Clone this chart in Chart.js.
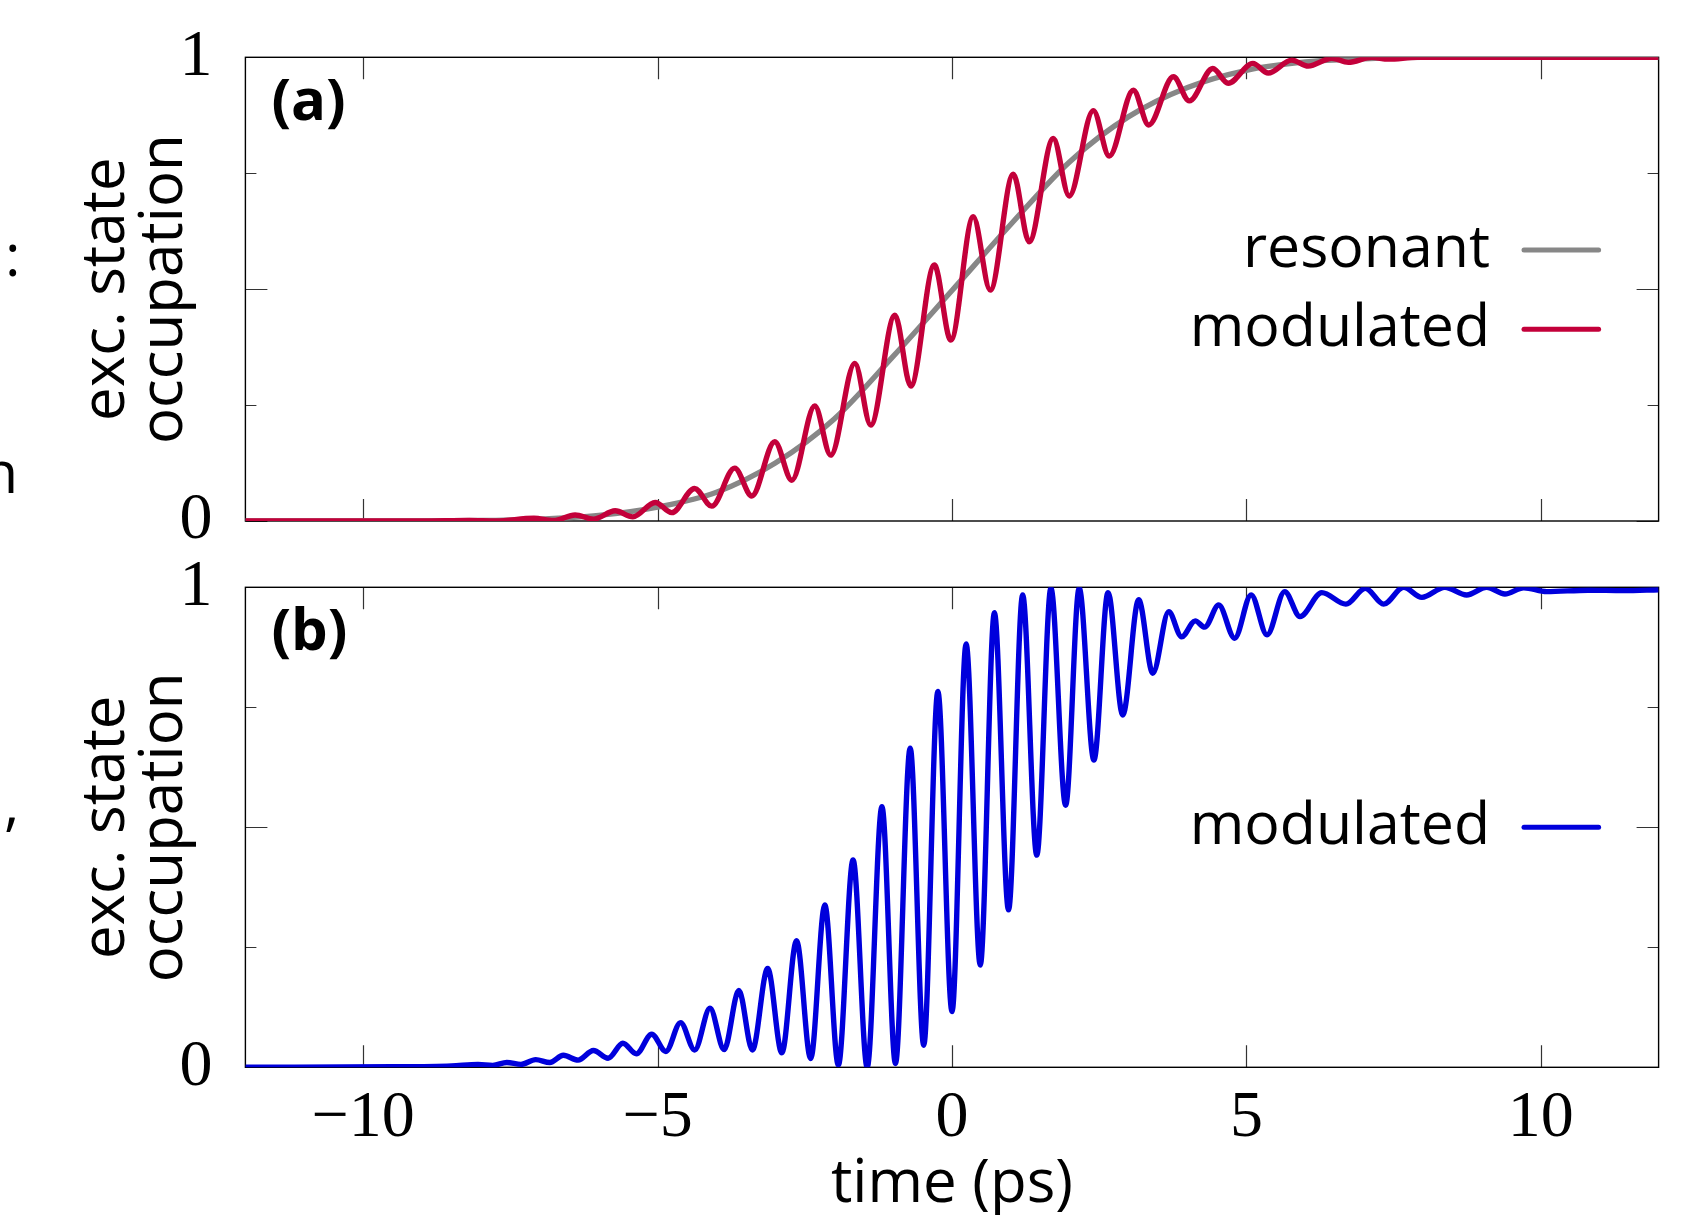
<!DOCTYPE html>
<html>
<head>
<meta charset="utf-8">
<script src="https://cdn.jsdelivr.net/npm/chart.js@4.4.1/dist/chart.umd.min.js"></script>
<style>
  html, body { margin: 0; padding: 0; background: #fff; }
  body { width: 1699px; height: 1215px; position: relative; overflow: hidden; }
  canvas { position: absolute; left: 0; top: 0; }
  .edge { position: absolute; font-family: 'Open Sans', sans-serif; font-size: 59px; line-height: 59px; color: #000; }
</style>
</head>
<body>
<div class="edge" style="left:5px;top:224px">:</div>
<div class="edge" style="left:-18px;top:441px">n</div>
<div class="edge" style="left:4px;top:772px">,</div>
<canvas id="panel-a" width="1699" height="1215"></canvas>
<canvas id="panel-b" width="1699" height="1215"></canvas>
<script>
// axes
const X_TICKS = [-10, -5, 0, 5, 10];
const X_TICK_LABELS = ["−10", "−5", "0", "5", "10"];
const Y_TICKS = [0, 0.25, 0.5, 0.75, 1];
const Y_TICK_LABELS = ["0", "", "", "", "1"];

// (a) resonant pulse
const RESONANT_T = [-12, -9, -8, -7, -6, -5, -4, -3, -2, -1, 0, 1, 2, 3, 4, 5, 6, 7, 8, 12];
const RESONANT_P = [0, 0, 0.001, 0.004, 0.012, 0.03, 0.062, 0.125, 0.22, 0.355, 0.497, 0.64, 0.775, 0.872, 0.935, 0.972, 0.99, 0.997, 1, 1];

// (a) modulated pulse (peaks and troughs)
const MOD_A_T = [-12, -9, -8.2, -7.75, -7.1, -6.77, -6.40, -6.09, -5.72, -5.42, -5.04, -4.76, -4.37, -4.08, -3.69, -3.40,
  -3.01, -2.72, -2.33, -2.06, -1.65, -1.38, -0.97, -0.70, -0.30, -0.02, 0.36, 0.65, 1.04, 1.31, 1.72, 1.99, 2.40, 2.67,
  3.08, 3.34, 3.76, 4.03, 4.43, 4.69, 5.11, 5.37, 5.77, 6.05, 6.45, 6.73, 7.13, 7.41, 7.9, 12];
const MOD_A_P = [0, 0, 0.001, 0, 0.006, 0.001, 0.013, 0.004, 0.022, 0.009, 0.040, 0.018, 0.070, 0.032, 0.114, 0.054,
  0.171, 0.088, 0.248, 0.142, 0.340, 0.207, 0.444, 0.291, 0.552, 0.390, 0.656, 0.498, 0.748, 0.602, 0.825, 0.701, 0.885, 0.787,
  0.929, 0.854, 0.958, 0.906, 0.976, 0.944, 0.987, 0.966, 0.994, 0.981, 0.998, 0.989, 1.0, 0.996, 1.0, 1.0];

// (b) modulated pulse
const MOD_B_T = [-12, -9.5, -8.5, -8.05, -7.8, -7.56, -7.32, -7.07, -6.83, -6.6, -6.35, -6.09, -5.84, -5.59, -5.36, -5.10,
  -4.86, -4.61, -4.37, -4.11, -3.87, -3.62, -3.39, -3.13, -2.89, -2.64, -2.40, -2.16, -1.93, -1.68, -1.44, -1.19, -0.96, -0.71,
  -0.48, -0.24, 0.0, 0.24, 0.48, 0.72, 0.96, 1.20, 1.44, 1.68, 1.93, 2.16, 2.41, 2.65, 2.90, 3.17, 3.41, 3.68, 3.90, 4.13,
  4.29, 4.53, 4.80, 5.08, 5.35, 5.65, 5.91, 6.28, 6.69, 7.02, 7.33, 7.67, 7.98, 8.37, 8.74, 9.08, 9.39, 9.71, 10.10, 10.8, 11.4, 12];
const MOD_B_P = [0, 0.001, 0.003, 0.006, 0.004, 0.010, 0.006, 0.016, 0.010, 0.025, 0.015, 0.035, 0.019, 0.050, 0.028, 0.069,
  0.033, 0.093, 0.036, 0.123, 0.037, 0.160, 0.036, 0.206, 0.030, 0.264, 0.018, 0.338, 0.005, 0.432, 0.0, 0.543, 0.008, 0.665,
  0.046, 0.783, 0.116, 0.882, 0.213, 0.947, 0.328, 0.984, 0.442, 0.998, 0.546, 0.998, 0.640, 0.989, 0.734, 0.974, 0.821, 0.949, 0.897, 0.930,
  0.917, 0.963, 0.894, 0.984, 0.901, 0.991, 0.939, 0.989, 0.965, 0.998, 0.965, 1.0, 0.979, 1.0, 0.984, 1.0, 0.986, 0.999, 0.991, 0.994, 0.993, 0.995];

const GRAY = "#878787";
const RED = "#c3003a";
const BLUE = "#0000dc";
const SANS = "'Open Sans', sans-serif";
const SERIF = "'Liberation Serif', 'Times New Roman', serif";

function pts(ts, ps) {
  return ts.map((t, i) => ({ x: t, y: ps[i] }));
}

// frame with inward ticks, panel label and legend (gnuplot look)
const framePlugin = {
  id: "frame",
  beforeDatasetsDraw(chart) {
    const { ctx, chartArea: a, scales: { x, y } } = chart;
    ctx.save();
    ctx.strokeStyle = "#333";
    ctx.lineWidth = 1.2;
    ctx.beginPath();
    x.ticks.forEach((t) => {
      const px = Math.round(x.getPixelForValue(t.value)) + 0.5;
      ctx.moveTo(px, a.bottom); ctx.lineTo(px, a.bottom - 22);
      ctx.moveTo(px, a.top); ctx.lineTo(px, a.top + 22);
    });
    y.ticks.forEach((t) => {
      const py = Math.round(y.getPixelForValue(t.value)) + 0.5;
      const len = Math.abs(t.value * 2 - Math.round(t.value * 2)) < 1e-9 ? 22 : 11;
      ctx.moveTo(a.left, py); ctx.lineTo(a.left + len, py);
      ctx.moveTo(a.right, py); ctx.lineTo(a.right - len, py);
    });
    ctx.stroke();
    ctx.strokeStyle = "#000";
    ctx.lineWidth = 1.4;
    ctx.strokeRect(a.left, a.top, a.right - a.left, a.bottom - a.top);
    ctx.restore();
  },
  afterDatasetsDraw(chart, args, opts) {
    const { ctx, chartArea: a } = chart;
    ctx.save();
    ctx.fillStyle = "#000";
    ctx.font = `bold 58px ${SANS}`;
    ctx.textAlign = "left";
    ctx.textBaseline = "alphabetic";
    ctx.fillText(opts.label, a.left + 26, a.top + 63);

    ctx.font = `59px ${SANS}`;
    ctx.textAlign = "right";
    ctx.lineCap = "round";
    ctx.lineWidth = 5;
    opts.legend.forEach((item, i) => {
      const ly = a.top + opts.legendTop + i * 79.3;
      ctx.fillStyle = "#000";
      ctx.fillText(item.text, a.right - 168.6, ly + 17);
      ctx.strokeStyle = item.color;
      ctx.beginPath();
      ctx.moveTo(a.right - 134.6, ly);
      ctx.lineTo(a.right - 60, ly);
      ctx.stroke();
    });
    ctx.restore();
  },
};

function lineSet(label, ts, ps, color, order) {
  return {
    label,
    data: pts(ts, ps),
    borderColor: color,
    borderWidth: 5.4,
    pointRadius: 0,
    cubicInterpolationMode: "monotone",
    fill: false,
    order,
  };
}

function makePanel(canvasId, cfg) {
  return new Chart(document.getElementById(canvasId), {
    type: "line",
    data: { datasets: cfg.datasets },
    plugins: [framePlugin],
    options: {
      responsive: false,
      animation: false,
      events: [],
      parsing: false,
      layout: { padding: { left: 0, right: 40.4, top: cfg.top, bottom: cfg.bottom } },
      plugins: {
        legend: { display: false },
        tooltip: { enabled: false },
        frame: { label: cfg.label, legend: cfg.legend, legendTop: cfg.legendTop },
      },
      scales: {
        x: {
          type: "linear",
          min: -12,
          max: 12,
          afterBuildTicks: (s) => { s.ticks = X_TICKS.map((v) => ({ value: v })); },
          afterFit: (s) => { s.height = cfg.xHeight; s.paddingLeft = 0; s.paddingRight = 0; },
          grid: { display: false, drawTicks: false },
          border: { display: false },
          ticks: {
            display: cfg.showX,
            callback: (v, i) => X_TICK_LABELS[i],
            font: { family: SERIF, size: 66 },
            color: "#000",
            padding: 12,
            maxRotation: 0,
          },
          title: {
            display: cfg.showX,
            text: "time (ps)",
            font: { family: SANS, size: 60, lineHeight: 0.85 },
            color: "#000",
            padding: { top: 0, bottom: 5 },
          },
        },
        y: {
          type: "linear",
          min: 0,
          max: 1,
          afterBuildTicks: (s) => { s.ticks = Y_TICKS.map((v) => ({ value: v })); },
          // fixed axis width; tick label overhang must not push the plot area
          afterFit: (s) => { s.width = 245.4; s.paddingTop = 0; s.paddingBottom = 0; },
          grid: { display: false, drawTicks: false },
          border: { display: false },
          ticks: {
            callback: (v, i) => Y_TICK_LABELS[i],
            font: { family: SERIF, size: 66 },
            color: "#000",
            padding: 33,
          },
          title: {
            display: true,
            text: ["exc. state", "occupation"],
            font: { family: SANS, size: 60, lineHeight: 0.966 },
            color: "#000",
            padding: { top: 78, bottom: 0 },
          },
        },
      },
    },
  });
}

makePanel("panel-a", {
  top: 57.3,
  bottom: 694,
  xHeight: 0,
  showX: false,
  label: "(a)",
  legendTop: 192.7,
  legend: [
    { text: "resonant", color: GRAY },
    { text: "modulated", color: RED },
  ],
  datasets: [
    lineSet("resonant", RESONANT_T, RESONANT_P, GRAY, 1),
    lineSet("modulated", MOD_A_T, MOD_A_P, RED, 0),
  ],
});

makePanel("panel-b", {
  top: 587.3,
  bottom: 0,
  xHeight: 147.7,
  showX: true,
  label: "(b)",
  legendTop: 240,
  legend: [{ text: "modulated", color: BLUE }],
  datasets: [lineSet("modulated", MOD_B_T, MOD_B_P, BLUE, 0)],
});
</script>
</body>
</html>
